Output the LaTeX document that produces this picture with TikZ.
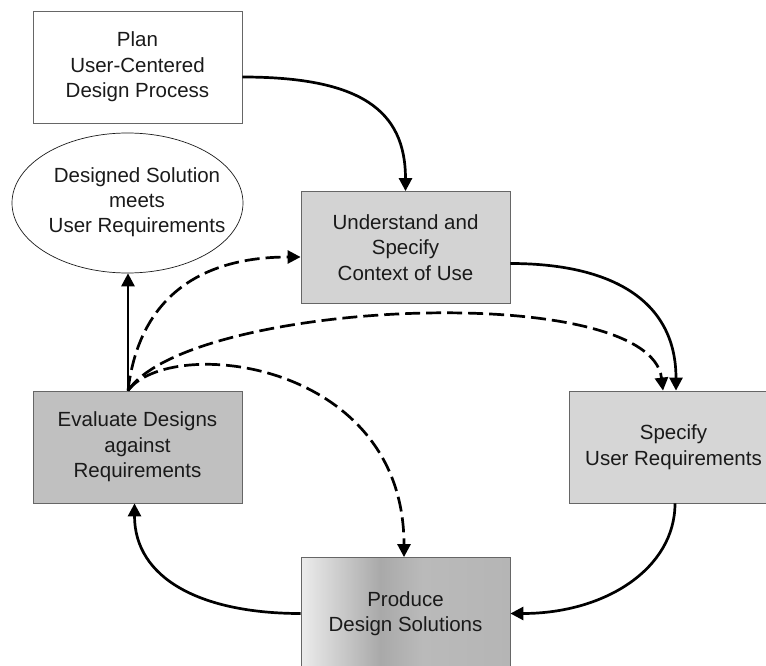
\documentclass[tikz,border=0pt]{standalone}
\usepackage{fontspec}
\setmainfont{Liberation Sans}
\usetikzlibrary{arrows.meta,shapes.geometric}
\definecolor{boxline}{HTML}{666666}
\definecolor{inktext}{HTML}{1A1A1A}
\definecolor{ctxgray}{HTML}{D3D3D3}
\definecolor{reqgray}{HTML}{D6D6D6}
\definecolor{evalgray}{HTML}{C0C0C0}
\definecolor{fadeA}{HTML}{ECECEC}
\definecolor{fadeB}{HTML}{A9A9A9}
\definecolor{fadeC}{HTML}{BABABA}
\definecolor{fadeD}{HTML}{B5B5B5}
\pgfdeclarehorizontalshading{producefade}{100bp}{color(0bp)=(fadeA); color(25bp)=(fadeA); color(44bp)=(fadeB); color(54bp)=(fadeC); color(75bp)=(fadeD); color(100bp)=(fadeD)}

\begin{document}
\begin{tikzpicture}[x=1pt,y=-1pt,
  box/.style={draw=boxline, line width=0.8pt, minimum width=209pt, minimum height=112pt,
    align=center, text=inktext, font=\fontsize{20.5}{25.5}\selectfont},
  flow/.style={line width=2.7pt, -{Triangle[length=13pt,width=13pt]}},
  maybe/.style={flow, dash pattern=on 15pt off 6pt}]
\useasboundingbox (0,0) rectangle (766,666);
\node[box, fill=white] (plan) at (137.5,67) {Plan\\User-Centered\\Design Process};
\node[box, fill=ctxgray] (context) at (405.5,247.5) {Understand and\\Specify\\Context of Use};
\node[box, fill=evalgray] (evaluate) at (137.5,447) {Evaluate Designs\\against\\Requirements};
\node[box, fill=reqgray] (specify) at (673.5,447) {Specify\\User Requirements};
\node[box, shading=producefade] (produce) at (405.5,613.5) {Produce\\Design Solutions};
\node[ellipse, draw=inktext, line width=0.7pt, minimum width=231pt, minimum height=140pt] (solution) at (127.5,203) {};
\node[align=center, text=inktext, font=\fontsize{20.5}{25}\selectfont] (solutiontext) at (137,202) {Designed Solution\\meets\\User Requirements};
\coordinate (fan) at ([xshift=-9.5pt]evaluate.north);
% main cycle
\draw [flow] ([yshift=-10pt]plan.east) .. controls +(118,0) and +(0,-81) .. (context.north);
\draw [flow] ([yshift=-16pt]context.east) .. controls +(100,0) and +(0,-91) .. ([xshift=2.5pt]specify.north);
\draw [flow] ([xshift=1.5pt]specify.south) .. controls +(0,65) and +(95,0) .. (produce.east);
\draw [flow] (produce.west) .. controls +(-100,0) and +(0,75) .. ([xshift=-3pt]evaluate.south);
% iterate from evaluation
\draw [flow] (fan) -- (fan |- solution.south);
\draw [maybe] (fan) .. controls +(12,-101) and +(-91,0) .. ([yshift=-9.5pt]context.west);
\draw [maybe] (fan) .. controls +(62,-91) and +(-13,-111) .. ([xshift=-10.5pt]specify.north);
\draw [maybe] (fan) .. controls +(42,-56) and +(0,-197) .. ([xshift=-1.5pt]produce.north);
\end{tikzpicture}
\end{document}
